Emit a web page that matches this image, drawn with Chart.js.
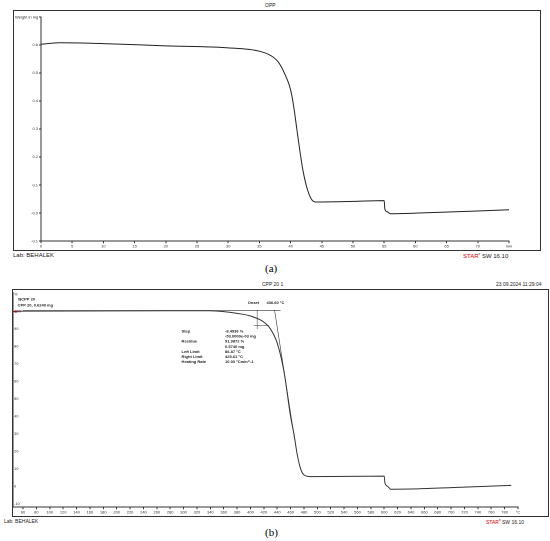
<!DOCTYPE html>
<html><head><meta charset="utf-8">
<script src="https://cdn.jsdelivr.net/npm/chart.js@4"></script>
<style>
body{margin:0;background:#fff;font-family:"Liberation Sans",Arial,sans-serif;}
.t{position:absolute;font-size:5px;color:#222;white-space:nowrap}
#c1,#c2{position:absolute}
</style></head><body>
<div class="t" style="left:265px;top:2px">OPP</div>
<div class="t" style="left:13px;top:252px;font-size:6px">Lab: BEHALEK</div>
<div class="t" style="left:463px;top:252px;font-size:6px"><span style="color:#d00">STAR</span><sup style="font-size:3px">e</sup> SW 16.10</div>
<div style="position:absolute;left:265px;top:262px;font-family:'Liberation Serif',serif;font-size:11px">(a)</div>
<div class="t" style="left:262px;top:281px">CPP 20 1</div>
<div class="t" style="left:496px;top:281px">23.09.2024 11:29:04</div>
<div class="t" style="left:4px;top:518px">Lab: BEHALEK</div>
<div class="t" style="left:486px;top:518px"><span style="color:#d00">STAR</span><sup style="font-size:3px">e</sup> SW 16.10</div>
<div style="position:absolute;left:265px;top:526px;font-family:'Liberation Serif',serif;font-size:11px">(b)</div>
<canvas id="c1"></canvas><canvas id="c2"></canvas>
<script>
const timeMin=[0,3,10,20,30,35,37,38,39,40,40.5,41,41.5,42,42.5,43,43.5,44,50,55,55.1,55.5,56,60,75];
const weightMg=[0.603,0.608,0.605,0.597,0.590,0.578,0.560,0.540,0.500,0.440,0.380,0.300,0.220,0.150,0.100,0.065,0.045,0.040,0.042,0.045,0.015,0.005,-0.002,0.0,0.012];
const tempC=[45,60,340,360,380,400,420,430,440,450,460,465,470,475,480,490,600,601,605,610,650,700,790];
const massPct=[100,100.3,100.5,100,99,97.5,94,90,82,66,40,30,18,10,6.5,5.5,5.8,2,0,-1.7,-1.5,-0.8,0.5];
const baseX=[60,445],baseY=[100.6,100.6];
const tanX=[436,466],tanY=[101,27];
const info=[["Step","-8.4936 %"],["","-53.0000e-03 mg"],["Residue","91.9872 %"],["","0.5740 mg"],["Left Limit","86.87 °C"],["Right Limit","425.61 °C"],["Heating Rate","10.00 °Cmin^-1"]];

function place(id,l,t,w,h){const c=document.getElementById(id);c.style.left=l+'px';c.style.top=t+'px';c.style.width=w+'px';c.style.height=h+'px';return c;}
const tf={size:4,family:"Liberation Sans"};
const gr={drawOnChartArea:false,drawTicks:true,tickLength:2,color:'#333'};
function xy(a,b){return a.map((v,i)=>({x:v,y:b[i]}));}

new Chart(place('c1',13,10,528,241),{type:'scatter',
 data:{datasets:[{data:xy(timeMin,weightMg),showLine:true,borderColor:'#222',borderWidth:1,pointRadius:0,cubicInterpolationMode:'monotone'}]},
 options:{animation:false,responsive:false,devicePixelRatio:2,layout:{padding:{left:0,right:32,top:7,bottom:1}},
  plugins:{legend:{display:false},tooltip:{enabled:false}},
  scales:{x:{type:'linear',min:0,max:75,grid:gr,border:{color:'#333'},
     ticks:{stepSize:5,font:tf,color:'#333',padding:1,maxRotation:0,autoSkip:false,callback:v=>v==75?'min':v}},
   y:{min:-0.1,max:0.7,grid:gr,border:{color:'#333'},
     ticks:{stepSize:0.1,font:tf,color:'#333',padding:1,callback:v=>Math.abs(v-0.7)<1e-6?'':v.toFixed(1)},afterFit:s=>{s.width=28}}}},
 plugins:[{id:'f1',afterDraw(ch){const c=ch.ctx;c.save();c.strokeStyle='#333';c.lineWidth=1;c.strokeRect(0.5,0.5,ch.width-1,ch.height-1);
   c.fillStyle='#222';c.font='4px Liberation Sans';c.fillText('Weight in mg',2,ch.chartArea.top+1.5);c.restore();}}]});

const ann={id:'ann',afterDatasetsDraw(ch){const c=ch.ctx,X=ch.scales.x,Y=ch.scales.y;c.save();c.fillStyle='#222';
 c.font='bold 4px Liberation Sans';
 c.fillText('Onset',X.getPixelForValue(396),Y.getPixelForValue(104.5));
 c.fillText('436.60 °C',X.getPixelForValue(424),Y.getPixelForValue(104.5));
 c.fillText('!$CPP 20',X.getPixelForValue(52),Y.getPixelForValue(106.5));
 c.fillText('CPP 20, 0.6240 mg',X.getPixelForValue(52),Y.getPixelForValue(103));
 info.forEach((r,i)=>{const yy=Y.getPixelForValue(88-i*2.9);c.fillText(r[0],X.getPixelForValue(297),yy);c.fillText(r[1],X.getPixelForValue(362),yy);});
 c.strokeStyle='#333';c.lineWidth=0.5;c.beginPath();
 const cx=X.getPixelForValue(410),cy=Y.getPixelForValue(92);
 c.moveTo(cx,Y.getPixelForValue(101));c.lineTo(cx,Y.getPixelForValue(90));
 c.moveTo(X.getPixelForValue(405),cy);c.lineTo(X.getPixelForValue(428),cy);c.stroke();
 c.fillStyle='#d00';c.fillRect(X.getPixelForValue(49)-1,Y.getPixelForValue(100)-1,2,2);
 c.restore();}};
new Chart(place('c2',0,289,550,228),{type:'scatter',
 data:{datasets:[
  {data:xy(tempC,massPct),showLine:true,borderColor:'#333',borderWidth:1,pointRadius:0,cubicInterpolationMode:'monotone'},
  {data:xy(baseX,baseY),showLine:true,borderColor:'#333',borderWidth:0.6,pointRadius:0},
  {data:xy(tanX,tanY),showLine:true,borderColor:'#333',borderWidth:0.6,pointRadius:0}]},
 options:{animation:false,responsive:false,devicePixelRatio:2,layout:{padding:{left:13,right:32,top:1,bottom:1}},
  plugins:{legend:{display:false},tooltip:{enabled:false}},
  scales:{x:{type:'linear',min:45,max:800,grid:gr,border:{color:'#333'},
     ticks:{stepSize:20,font:tf,color:'#333',padding:1,maxRotation:0,autoSkip:false,
       callback:v=>v==800?'°C':v},
     afterBuildTicks:s=>{const t=[];for(let v=60;v<=800;v+=20)t.push({value:v});s.ticks=t;}},
   y:{min:-12,max:111,grid:{display:false},border:{color:'#333'},
     ticks:{font:tf,color:'#333',padding:1,mirror:true,autoSkip:false,callback:v=>v==110?'%':v},
     afterBuildTicks:s=>{const t=[];for(let v=-10;v<=110;v+=10)t.push({value:v});s.ticks=t;},afterFit:s=>{s.width=0}}}},
 plugins:[ann,{id:'f2',afterDraw(ch){const c=ch.ctx;c.save();c.strokeStyle='#333';c.lineWidth=1;c.strokeRect(12.5,0.5,536,ch.height-1);c.restore();}}]});
</script></body></html>
